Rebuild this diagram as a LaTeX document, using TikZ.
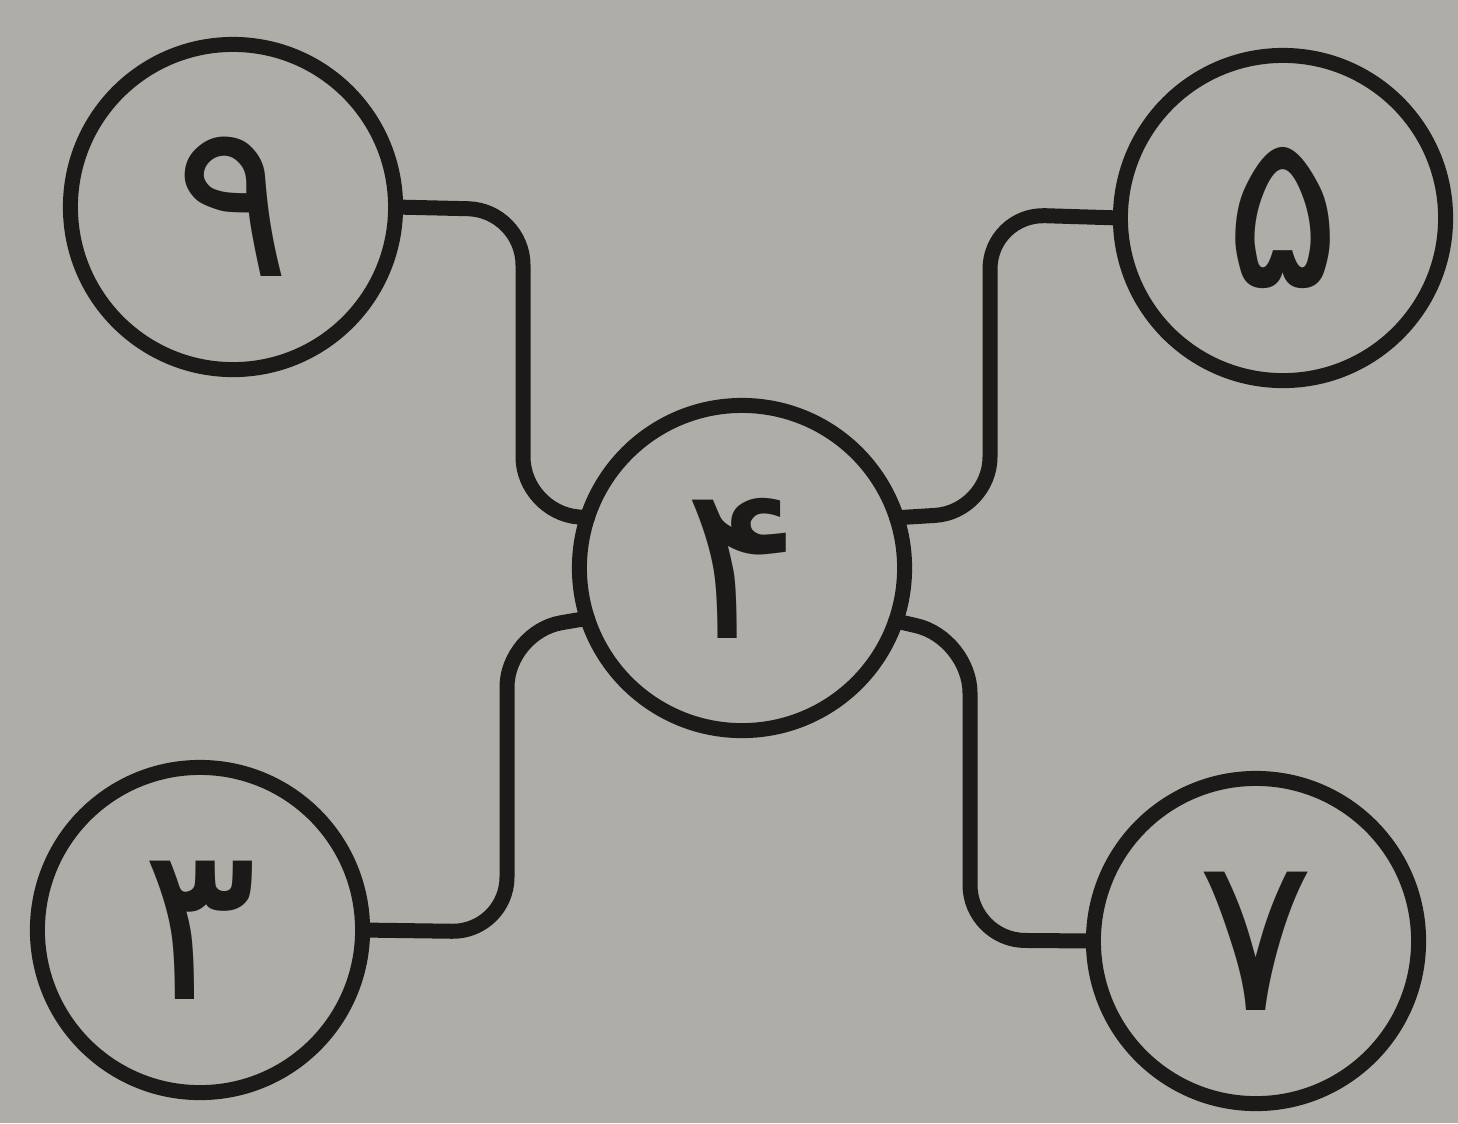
\documentclass[tikz,border=0pt]{standalone}
\usepackage{fontspec}
\newfontfamily\pfont[Script=Arabic]{DejaVu Sans}
\TeXXeTstate=1
\definecolor{bg}{RGB}{174,173,168}
\definecolor{ink}{RGB}{28,26,24}
\begin{document}
\begin{tikzpicture}[x=0.01cm,y=-0.01cm,
  num/.style={circle,draw=ink,line width=0.15cm,minimum size=3.25cm,inner sep=0pt,outer sep=0pt,
    text=ink,font=\pfont\fontsize{62}{70}\selectfont},
  wire/.style={draw=ink,line width=0.15cm,rounded corners=0.55cm,line cap=round}]
\fill[bg] (0,0) rectangle (1458,1123);
\useasboundingbox (0,0) rectangle (1458,1123);
\node[num] (n9) at (233,207) {\beginR ۹\endR};
\node[num] (n5) at (1283,218) {\beginR ۵\endR};
\node[num] (n4) at (742,568) {\beginR ۴\endR};
\node[num] (n3) at (200,930) {\beginR ۳\endR};
\node[num] (n7) at (1256,941) {\beginR ۷\endR};
\draw[wire] (n9.east) -- (523,210) -- (523,512) -- (n4.162);
\draw[wire] (n5.west) -- (990,214) -- (990,512) -- (n4.18);
\draw[wire] (n3.east) -- (507,932) -- (507,632) -- (n4.-162);
\draw[wire] (n7.west) -- (970,940) -- (970,638) -- (n4.-19);
\end{tikzpicture}
\end{document}
